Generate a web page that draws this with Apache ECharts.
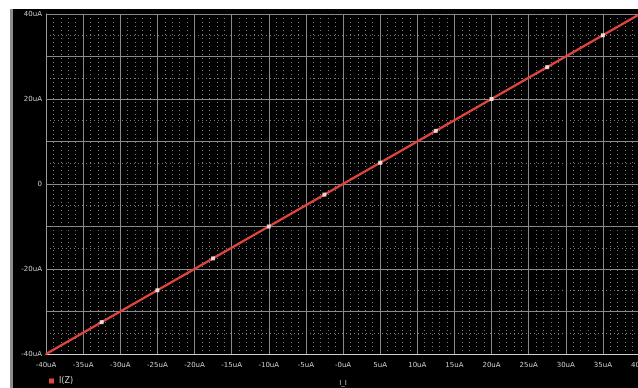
<!DOCTYPE html>
<html>
<head>
<meta charset="utf-8">
<style>
  html, body { margin: 0; padding: 0; background: #fff; }
  #chart { width: 638px; height: 388px; }
</style>
<script src="https://cdn.jsdelivr.net/npm/echarts@6/dist/echarts.min.js"></script>
</head>
<body>
<div id="chart"></div>
<script>
// Sweep of the source current and the resulting current I(Z), both in uA
const traceX = [-40, 40];
const traceY = [-40, 40];
// Marker positions along the trace
const markerX = [-32.5, -25, -17.5, -10, -2.5, 5, 12.5, 20, 27.5, 35];
const markerY = [-32.5, -25, -17.5, -10, -2.5, 5, 12.5, 20, 27.5, 35];
// Axis tick labels
const xTickLabels = ['-40uA', '-35uA', '-30uA', '-25uA', '-20uA', '-15uA', '-10uA', '-5uA', '-0uA',
  '5uA', '10uA', '15uA', '20uA', '25uA', '30uA', '35uA', '40uA'];
const yTickLabels = { '40': '40uA', '20': '20uA', '0': '0', '-20': '-20uA', '-40': '-40uA' };
const seriesName = 'I(Z)';
const xTitle = 'I_I';

const chart = echarts.init(document.getElementById('chart'), null, { renderer: 'canvas' });

const labelStyle = { color: '#c9c9c9', fontFamily: 'DejaVu Sans', fontSize: 7 };

chart.setOption({
  backgroundColor: '#000',
  animation: false,
  grid: { left: 46, right: -2, top: 14, bottom: 34, outerBoundsMode: 'none', containLabel: false },
  legend: {
    left: 44, top: 372,
    itemWidth: 5, itemHeight: 5, itemGap: 4,
    icon: 'rect',
    textStyle: { color: '#c9c9c9', fontFamily: 'DejaVu Sans', fontSize: 8 },
    data: [{ name: seriesName, icon: 'rect' }]
  },
  graphic: [
    { type: 'rect', shape: { x: 0, y: 0, width: 638, height: 9 }, style: { fill: '#fff' }, silent: true },
    { type: 'rect', shape: { x: 0, y: 0, width: 10, height: 388 }, style: { fill: '#fff' }, silent: true },
    { type: 'rect', shape: { x: 10, y: 9, width: 3, height: 379 }, style: { fill: '#8c8c8c' }, silent: true }
  ],
  xAxis: {
    type: 'value', min: -40, max: 40, interval: 5,
    name: xTitle, nameLocation: 'middle', nameGap: 26,
    nameTextStyle: labelStyle,
    axisLine: { show: true, onZero: false, lineStyle: { color: '#d0d0d0', width: 1 } },
    axisTick: { show: false },
    axisLabel: {
      ...labelStyle, margin: 8,
      formatter: v => xTickLabels[Math.round((v + 40) / 5)]
    },
    splitLine: { show: true, lineStyle: { color: '#8a8a8a', width: 1 } },
    minorTick: { show: false, splitNumber: 5 },
    minorSplitLine: { show: true, lineStyle: { color: '#7a7a7a', width: 1, type: [1, 3] } }
  },
  yAxis: {
    type: 'value', min: -40, max: 40, interval: 10,
    axisLine: { show: true, onZero: false, lineStyle: { color: '#9a9a9a', width: 1 } },
    axisTick: { show: false },
    axisLabel: {
      ...labelStyle, margin: 4,
      formatter: v => yTickLabels[String(v)] || ''
    },
    splitLine: { show: true, lineStyle: { color: '#8a8a8a', width: 1 } },
    minorTick: { show: false, splitNumber: 2 },
    minorSplitLine: { show: true, lineStyle: { color: '#7a7a7a', width: 1, type: [1, 3] } }
  },
  series: [
    {
      name: seriesName,
      type: 'line',
      data: traceX.map((x, i) => [x, traceY[i]]),
      showSymbol: false,
      symbol: 'rect',
      itemStyle: { color: '#e0463f' },
      lineStyle: { color: '#e0463f', width: 2.5 },
      z: 3
    },
    {
      name: 'markers',
      type: 'scatter',
      data: markerX.map((x, i) => [x, markerY[i]]),
      symbol: 'rect',
      symbolSize: 4,
      itemStyle: { color: '#ffffff' },
      z: 4
    }
  ]
});
</script>
</body>
</html>
